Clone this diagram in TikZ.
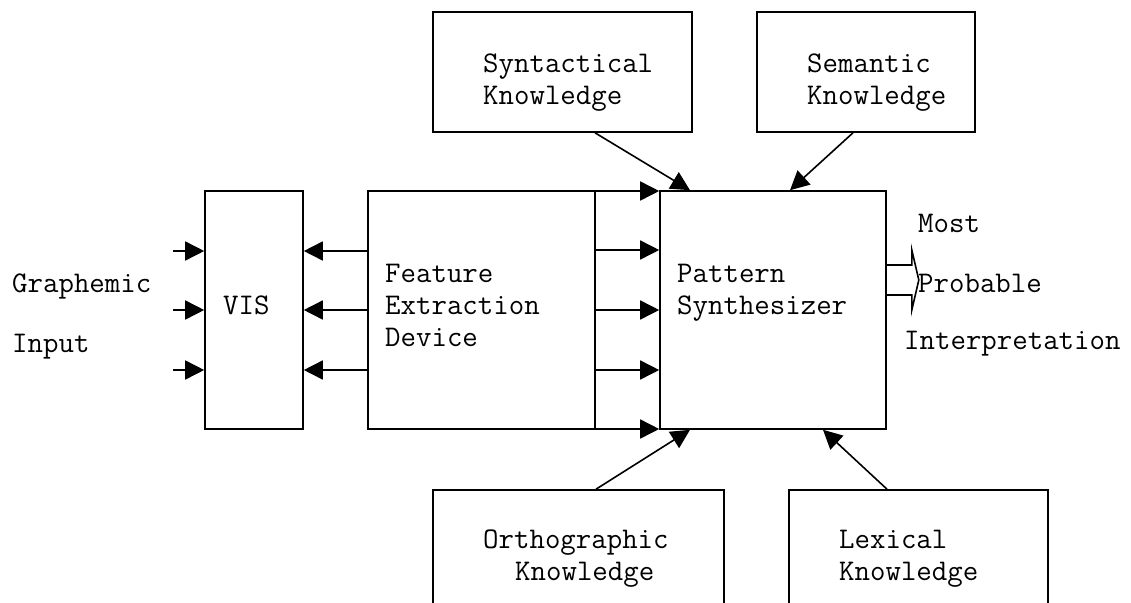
\documentclass[tikz,border=0pt]{standalone}
\usepackage{tikz}
\usetikzlibrary{arrows.meta}

\begin{document}
\begin{tikzpicture}[x=1pt,y=-1pt,
        box/.style={draw,line width=1.6pt,inner sep=0pt},
        txt/.style={anchor=base west,align=left,inner sep=0pt,font=\fontsize{30}{32}\selectfont\ttfamily},
        link/.style={line width=1.6pt,-{Triangle[length=19pt,width=19pt]}}
    ]

    \useasboundingbox (0,0) rectangle (1131,602);
    \clip (0,0) rectangle (1131,602);

    % middle row
    \node[box,minimum width=98pt,minimum height=238pt] (vis) at (254,310) {};
    \node[box,minimum width=227pt,minimum height=238pt] (fed) at (481.5,310) {};
    \node[box,minimum width=226pt,minimum height=238pt] (ps) at (773,310) {};

    % knowledge sources
    \node[box,minimum width=259pt,minimum height=120pt] (syn) at (562.5,72) {};
    \node[box,minimum width=218pt,minimum height=120pt] (sem) at (866,72) {};
    \node[box,minimum width=291pt,minimum height=160pt] (orth) at (578.5,570) {};
    \node[box,minimum width=259pt,minimum height=160pt] (lex) at (918.5,570) {};

    % base of a text is its last line
    \node[txt] (vistext) at (223,314) {VIS};
    \node[txt] (fedtext) at (385,346) {Feature\\Extraction\\Device};
    \node[txt] (pstext) at (677,314) {Pattern\\Synthesizer};
    \node[txt] (syntext) at (483,104) {Syntactical\\Knowledge};
    \node[txt] (semtext) at (807,104) {Semantic\\Knowledge};
    \node[txt] (orthtext) at (483,580) {Orthographic\\\hspace*{32pt}Knowledge};
    \node[txt] (lextext) at (839,580) {Lexical\\Knowledge};

    \node[txt] (graphemic) at (12,292) {Graphemic};
    \node[txt] (input) at (12,352) {Input};
    \node[txt] (most) at (918,232) {Most};
    \node[txt] (probable) at (918,292) {Probable};
    \node[txt] (interp) at (904,349) {Interpretation};

    % graphemic input
    \foreach \y in {251,310,370} {
        \coordinate (in\y) at (173,\y);
        \draw[link] (in\y) -- (in\y -| vis.west);
        \draw[link] (fed.west |- in\y) -- (vis.east |- in\y);
    }

    \foreach \y in {191,250,310,370,429}
        \draw[link] (fed.east |- 0,\y) -- (ps.west |- 0,\y);

    \draw[link] ([xshift=32.5pt]syn.south) -- ([xshift=-83pt]ps.north);
    \draw[link] ([xshift=-13pt]sem.south) -- ([xshift=17pt]ps.north);
    \draw[link] ([xshift=17.5pt]orth.north) -- ([xshift=-83pt]ps.south);
    \draw[link] ([xshift=-31.5pt]lex.north) -- ([xshift=50pt]ps.south);

    % output
    \draw[line width=1.6pt] (ps.east) ++(0,-45) -- ++(25,0) -- ++(0,-15) -- ++(7,30)
        -- ++(-7,30) -- ++(0,-15) -- ++(-25,0);

\end{tikzpicture}
\end{document}
